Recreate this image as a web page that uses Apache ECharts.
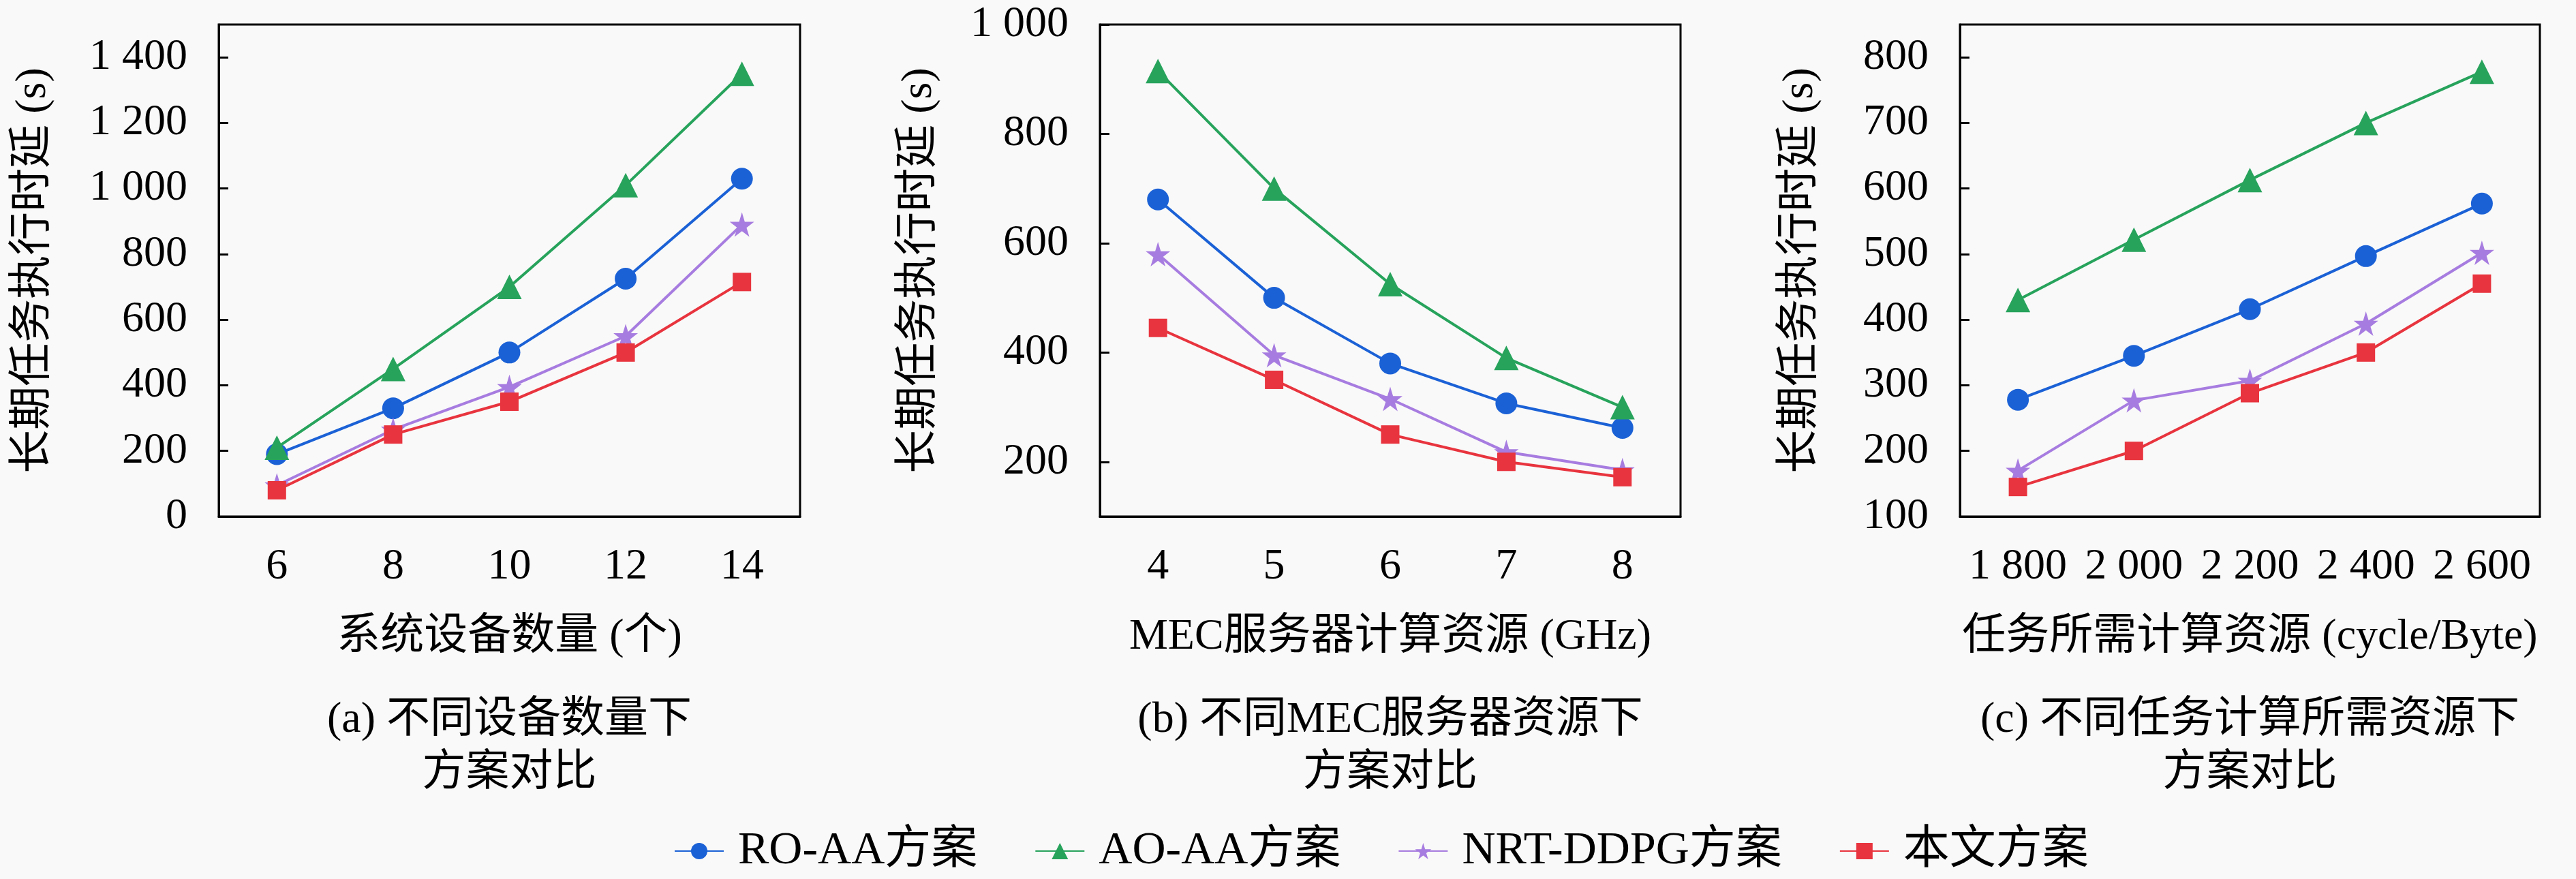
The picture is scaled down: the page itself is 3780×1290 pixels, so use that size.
<!DOCTYPE html>
<html>
<head>
<meta charset="utf-8">
<style>
  html, body { margin: 0; padding: 0; background: #f9f9f9; }
  #chart { width: 3780px; height: 1290px; }
</style>
<script src="https://cdn.jsdelivr.net/npm/echarts@6/dist/echarts.min.js"></script>
</head>
<body>
<div id="chart"></div>
<script>
// data
const schemes = ['RO-AA方案', 'AO-AA方案', 'NRT-DDPG方案', '本文方案'];

const devCounts = ['6', '8', '10', '12', '14'];
const devRoAa = [190, 330, 500, 725, 1030];
const devAoAa = [210, 450, 700, 1010, 1350];
const devNrt = [95, 265, 395, 550, 890];
const devOurs = [80, 250, 350, 500, 715];

const mecRes = ['4', '5', '6', '7', '8'];
const mecRoAa = [680, 500, 380, 307, 262];
const mecAoAa = [915, 700, 525, 390, 300];
const mecNrt = [580, 395, 315, 218, 185];
const mecOurs = [445, 350, 250, 200, 172];

const taskRes = ['1 800', '2 000', '2 200', '2 400', '2 600'];
const taskRoAa = [278, 345, 416, 497, 577];
const taskAoAa = [430, 522, 613, 700, 778];
const taskNrt = [170, 277, 307, 394, 502];
const taskOurs = [145, 200, 288, 350, 455];

const ticksA = [0, 200, 400, 600, 800, 1000, 1200, 1400];
const ticksB = [200, 400, 600, 800, 1000];
const ticksC = [100, 200, 300, 400, 500, 600, 700, 800];

const xNames = ['系统设备数量 (个)', 'MEC服务器计算资源 (GHz)', '任务所需计算资源 (cycle/Byte)'];
const yName = '长期任务执行时延 (s)';
const captions = [
  ['(a) 不同设备数量下', '方案对比'],
  ['(b) 不同MEC服务器资源下', '方案对比'],
  ['(c) 不同任务计算所需资源下', '方案对比']
];

const FONT = "'Liberation Serif', 'Noto Sans CJK SC', serif";
const colors = ['#1b61d6', '#27a35c', '#a77ce0', '#e8343e'];
const symbols = ['circle', 'triangle',
  'path://M50,0 L61,35 L98,35 L68,57 L79,91 L50,70 L21,91 L32,57 L2,35 L39,35 Z', 'rect'];
const symbolSizes = [32, 36, 36, 27];

const grids = [
  { left: 321, top: 36, width: 853, height: 722 },
  { left: 1614, top: 36, width: 852, height: 722 },
  { left: 2876, top: 36, width: 851, height: 722 }
];
const yRanges = [[0, 1500, ticksA], [100, 1000, ticksB], [100, 850, ticksC]];
const yNameGaps = [240, 233, 202];
const xCats = [devCounts, mecRes, taskRes];
const panelData = [
  [devRoAa, devAoAa, devNrt, devOurs],
  [mecRoAa, mecAoAa, mecNrt, mecOurs],
  [taskRoAa, taskAoAa, taskNrt, taskOurs]
];

function fmt(v) {
  return v >= 1000 ? String(v).replace(/(\d)(\d{3})$/, '$1 $2') : String(v);
}

const chart = echarts.init(document.getElementById('chart'));

const xAxis = xCats.map((cats, i) => ({
  type: 'category',
  gridIndex: i,
  data: cats,
  boundaryGap: true,
  name: xNames[i],
  nameLocation: 'middle',
  nameGap: 145,
  nameTextStyle: { fontFamily: FONT, fontSize: 64, color: '#000' },
  axisLine: { lineStyle: { color: '#000', width: 3 } },
  axisTick: { inside: true, alignWithLabel: true, interval: 0, length: 14, lineStyle: { color: '#000', width: 3 } },
  axisLabel: { interval: 0, margin: 42, fontFamily: FONT, fontSize: 64, color: '#000' },
  splitLine: { show: false }
}));

const yAxis = yRanges.map((r, i) => ({
  type: 'value',
  gridIndex: i,
  min: r[0],
  max: r[1],
  name: yName,
  nameLocation: 'middle',
  nameGap: yNameGaps[i],
  nameTextStyle: { fontFamily: FONT, fontSize: 64, color: '#000' },
  axisLine: { show: true, lineStyle: { color: '#000', width: 3 } },
  axisTick: { show: true, inside: true, length: 14, customValues: r[2], lineStyle: { color: '#000', width: 3 } },
  axisLabel: { margin: 46, fontFamily: FONT, fontSize: 64, color: '#000', customValues: r[2], formatter: fmt },
  splitLine: { show: false }
}));

const series = [];
panelData.forEach((set, p) => {
  set.forEach((vals, k) => {
    series.push({
      name: schemes[k],
      type: 'line',
      xAxisIndex: p,
      yAxisIndex: p,
      data: vals,
      symbol: symbols[k],
      symbolSize: symbolSizes[k],
      showAllSymbol: true,
      itemStyle: { color: colors[k] },
      lineStyle: { color: colors[k], width: 4 },
      z: 2 + k
    });
  });
});

const graphic = [];
captions.forEach((lines, i) => {
  const cx = grids[i].left + grids[i].width / 2;
  lines.forEach((t, j) => {
    graphic.push({
      type: 'text',
      x: cx,
      y: j === 0 ? 1057 : 1135,
      style: {
        text: t,
        fontFamily: FONT,
        fontSize: 64,
        fill: '#000',
        textAlign: 'center',
        textVerticalAlign: 'middle'
      }
    });
  });
});

chart.setOption({
  animation: false,
  backgroundColor: '#f9f9f9',
  grid: grids.map(g => Object.assign({ show: true, borderColor: '#000', borderWidth: 3, backgroundColor: 'transparent' }, g)),
  xAxis: xAxis,
  yAxis: yAxis,
  legend: {
    data: schemes,
    left: 984,
    top: 1210,
    itemWidth: 72,
    itemHeight: 30,
    itemGap: 84,
    textStyle: { fontFamily: FONT, fontSize: 68, color: '#000', padding: [0, 0, 0, 16] }
  },
  graphic: graphic,
  series: series
});
</script>
</body>
</html>
